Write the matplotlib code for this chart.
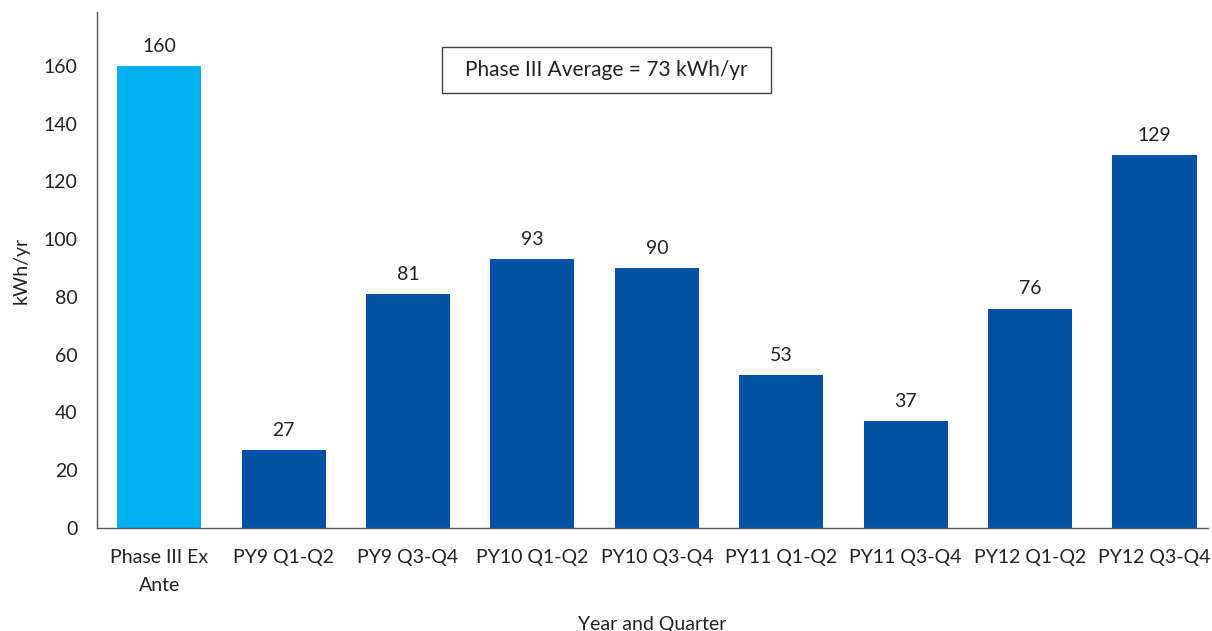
import matplotlib
matplotlib.use("Agg")
import matplotlib.pyplot as plt
from matplotlib.patches import Rectangle

categories = ["Phase III Ex\nAnte", "PY9 Q1-Q2", "PY9 Q3-Q4", "PY10 Q1-Q2", "PY10 Q3-Q4",
              "PY11 Q1-Q2", "PY11 Q3-Q4", "PY12 Q1-Q2", "PY12 Q3-Q4"]
values = [160, 27, 81, 93, 90, 53, 37, 76, 129]
y_ticks = [0, 20, 40, 60, 80, 100, 120, 140, 160]
average_text = "Phase III Average = 73 kWh/yr"

plt.rcParams["font.family"] = ["Lato", "DejaVu Sans"]

light_blue = "#00B0F0"
dark_blue = "#0053A4"
text_color = "#222222"
fs = 14
colors = [light_blue] + [dark_blue] * (len(values) - 1)

fig = plt.figure(figsize=(12.12, 6.31), dpi=100)
ax = fig.add_axes([0.080, 0.1632, 0.9167, 0.818])

x = list(range(len(categories)))
ax.bar(x, values, width=0.676, color=colors)

for xi, v in zip(x, values):
    ax.annotate(f"{v}", (xi, v), xytext=(0, 8), textcoords="offset points",
                ha="center", va="bottom", fontsize=fs, color=text_color)

ax.set_xlim(-0.5, 8.43)
ax.set_ylim(0, 178.7)
ax.set_yticks(y_ticks)
ax.set_xticks(x)
ax.set_xticklabels(categories, fontsize=fs, color=text_color, linespacing=1.8)
ax.tick_params(axis="y", labelsize=fs, labelcolor=text_color, length=0, pad=14)
ax.tick_params(axis="x", length=0, pad=15)

for side in ["top", "right"]:
    ax.spines[side].set_visible(False)
for side in ["left", "bottom"]:
    ax.spines[side].set_color("#595959")
    ax.spines[side].set_linewidth(1.0)

ax.set_ylabel("kWh/yr", fontsize=fs, color=text_color, labelpad=10)
ax.set_xlabel("Year and Quarter", fontsize=fs, color=text_color, labelpad=16)

# Annotation box with the phase average
box_x0, box_y0, box_w, box_h = 2.276, 150.6, 2.638, 16.0
ax.add_patch(Rectangle((box_x0, box_y0), box_w, box_h, facecolor="white",
                       edgecolor="#404040", linewidth=1.0, zorder=3))
ax.text(box_x0 + box_w / 2, box_y0 + box_h / 2, average_text, ha="center", va="center",
        fontsize=15, color=text_color, zorder=4)

fig.savefig("out.png", dpi=100)
